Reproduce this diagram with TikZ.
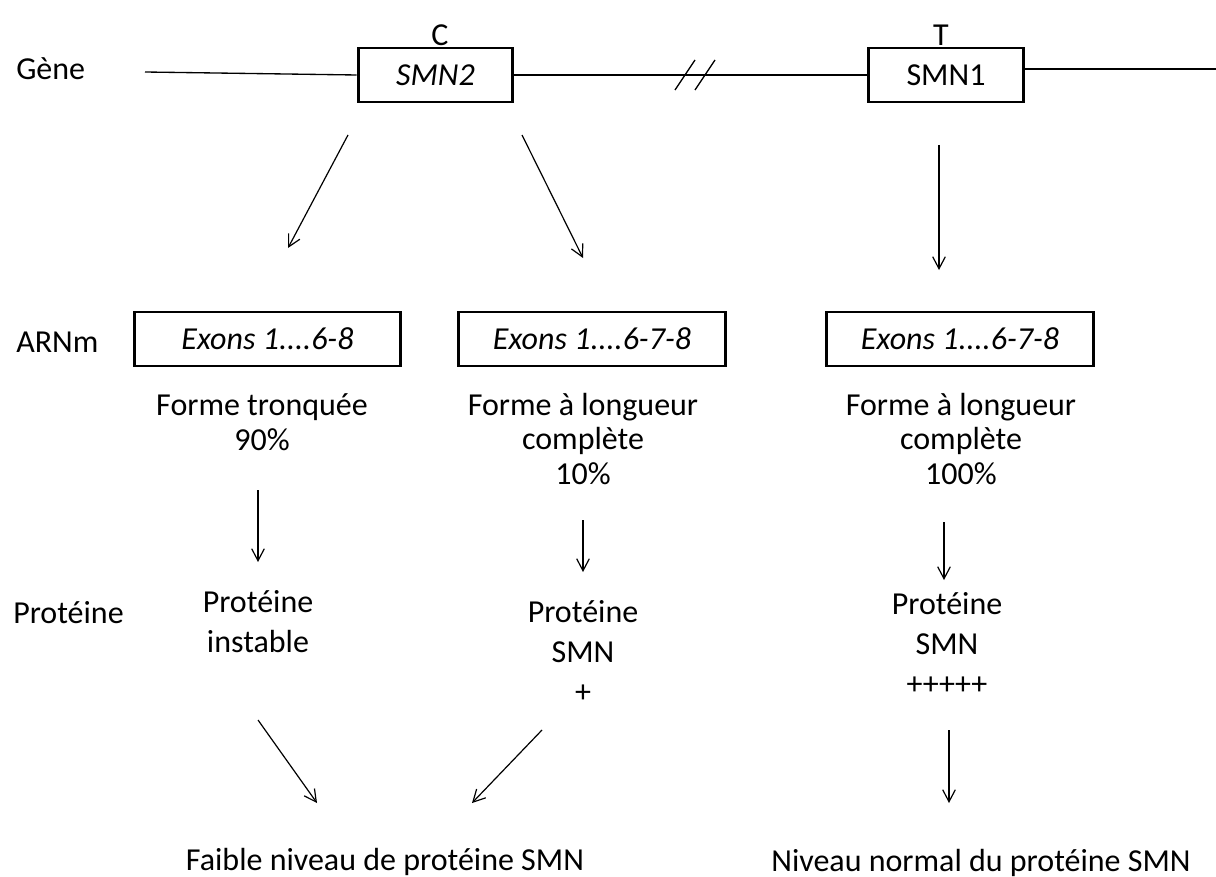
\documentclass[tikz,border=0pt]{standalone}
\usepackage{fontspec}
\setmainfont{Carlito}
\usetikzlibrary{arrows.meta}

\begin{document}
\begin{tikzpicture}[x=0.75pt, y=-0.75pt,
  every node/.style={font=\fontsize{24}{28}\selectfont, inner sep=0pt},
  genebox/.style={draw, line width=2.2pt, minimum width=116pt, minimum height=40.5pt},
  exonbox/.style={draw, line width=2.2pt, minimum width=200pt, minimum height=40.5pt,
    font=\fontsize{24}{28}\selectfont\itshape},
  forme/.style={align=center, font=\fontsize{24}{26}\selectfont},
  prot/.style={align=center, font=\fontsize{24}{30}\selectfont},
  brin/.style={line width=1pt},
  arr/.style={-{Straight Barb[length=9pt, width=9.5pt]}, line width=0.9pt}]
  \useasboundingbox (0,0) rectangle (1216,877);

  % niveau du gène
  \node[anchor=base west] (lgene) at (16,80) {Gène};
  \node[genebox] (smn2) at (435.5,75) {\itshape SMN2};
  \node[genebox] (smn1) at (946,75) {SMN1};
  \node[anchor=base] (c) at (440,46) {C};
  \node[anchor=base] (t) at (941,46) {T};
  \coordinate (g0) at (145,72);
  \coordinate (g1) at (1216,69);
  \draw[brin] (g0) -- (smn2.west);
  \draw[brin] (smn2.east) -- (smn1.west);
  \draw[brin] (smn1.east |- g1) -- (g1);
  \foreach \x in {675,695} {
    \draw[brin] (\x,90) -- (\x+20,60);
  }

  % niveau ARNm
  \node[anchor=base west] (larn) at (16,352) {ARNm};
  \node[exonbox] (ex1) at (267.5,339) {Exons 1....6-8};
  \node[exonbox] (ex2) at (592,339) {Exons 1....6-7-8};
  \node[exonbox] (ex3) at (960,339) {Exons 1....6-7-8};
  \node[forme] (f1) at (262,422) {Forme tronquée\\90\%};
  \node[forme] (f2) at (583,439) {Forme à longueur\\complète\\10\%};
  \node[forme] (f3) at (961,439) {Forme à longueur\\complète\\100\%};

  % niveau protéine
  \node[anchor=base west] (lprot) at (13,623) {Protéine};
  \node[prot] (p1) at (258,621.5) {Protéine\\instable};
  \node[prot] (p2) at (583,651.5) {Protéine\\SMN\\+};
  \node[prot] (p3) at (947,643.5) {Protéine\\SMN\\+++++};

  % résultat
  \node[anchor=base] (r1) at (385,870) {Faible niveau de protéine SMN};
  \node[anchor=base] (r2) at (981,871) {Niveau normal du protéine SMN};

  % flèches
  \foreach \n/\xa/\ya/\xb/\yb in {1/348/135/288/248, 2/522/135/583/258,
      3/939/145/939/270, 4/258/490/258/562, 5/583/520/583/572,
      6/944/522/944/580, 7/258/720/317/803, 8/542/730/472/803,
      9/949/730/949/803} {
    \coordinate (s\n) at (\xa,\ya);
    \coordinate (e\n) at (\xb,\yb);
    \draw[arr] (s\n) -- (e\n);
  }
\end{tikzpicture}
\end{document}
